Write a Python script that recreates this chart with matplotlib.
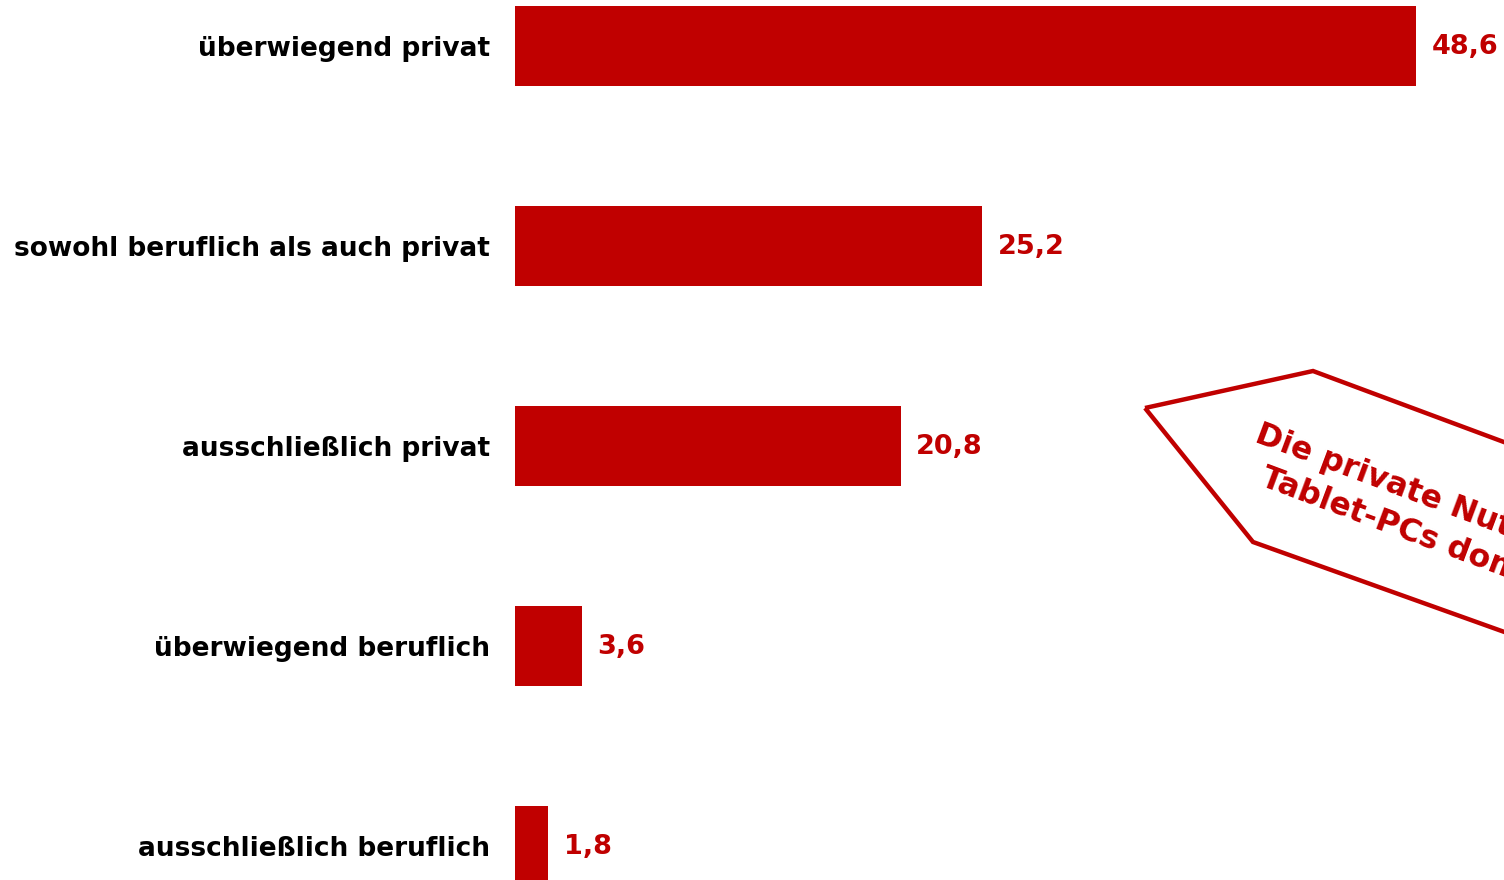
import matplotlib.pyplot as plt
from matplotlib.patches import Polygon
from matplotlib.transforms import Affine2D

plt.rcParams['font.family'] = ['DejaVu Sans']

# Nutzung von Tablet-PCs, Anteile in Prozent
categories = ["überwiegend privat", "sowohl beruflich als auch privat",
              "ausschließlich privat", "überwiegend beruflich",
              "ausschließlich beruflich"]
values = [48.6, 25.2, 20.8, 3.6, 1.8]
value_labels = ["48,6", "25,2", "20,8", "3,6", "1,8"]
note_lines = ["Die private Nutzung von", "Tablet-PCs dominiert."]

red = "#C00000"
W, H = 1504, 880

fig = plt.figure(figsize=(W / 100, H / 100), dpi=100)
ax = fig.add_axes([515 / W, 0, (W - 515) / W, 1])

pos = list(range(len(categories)))
ax.barh(pos, values, height=0.4, color=red)
ax.set_xlim(0, (W - 515) / 18.54)
ax.set_ylim(4 + 34 / 200, -46 / 200)

ax.set_yticks(pos)
ax.set_yticklabels(categories, fontsize=19, fontweight="bold")
ax.tick_params(axis="y", length=0, pad=18)
for t in ax.get_yticklabels():
    t.set_y(t.get_position()[1])
ax.set_xticks([])
for s in ax.spines.values():
    s.set_visible(False)

for p, v, lab in zip(pos, values, value_labels):
    ax.annotate(lab, (v, p), xytext=(11, -1), textcoords="offset points",
                ha="left", va="center", color=red, fontsize=19.5,
                fontweight="bold")

# Hinweis-Pfeil in Pixelkoordinaten (y von oben)
px = Affine2D().scale(1, -1).translate(0, H).scale(1 / W, 1 / H) + fig.transFigure
shape = [(1145, 408), (1313, 371), (1700, 515), (1700, 702), (1253, 542)]
fig.patches.append(Polygon(shape, closed=True, fill=False, edgecolor=red,
                           linewidth=3.2, transform=px))
for (x, y), line in zip([(1253, 441), (1259, 485)], note_lines):
    fig.text(x, y, line, transform=px, rotation=-20.5, rotation_mode="anchor",
             ha="left", va="baseline", color=red, fontsize=22.8,
             fontweight="bold")

fig.savefig("out.png", dpi=100)
